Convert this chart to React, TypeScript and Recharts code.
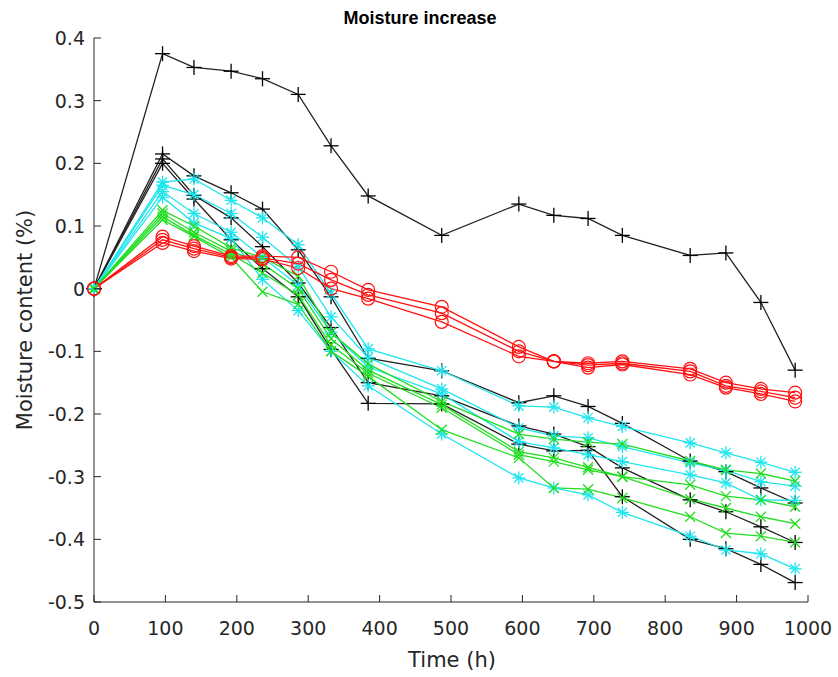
import { Line, LineChart, XAxis, YAxis } from 'recharts';

// Sampling times (h)
const TIME = [0, 96, 140, 192, 236, 286, 332, 384, 487, 595, 644, 692, 740, 835, 885, 934, 982];

// black '+' series
const K1 = [0, 0.375, 0.353, 0.347, 0.335, 0.31, 0.228, 0.148, 0.085, 0.135, 0.117, 0.112, 0.085, 0.053, 0.057, -0.022, -0.13];
const K2 = [0, 0.215, 0.18, 0.153, 0.127, 0.062, -0.013, -0.111, -0.131, -0.182, -0.171, -0.188, -0.215, -0.275, -0.292, -0.318, -0.342];
const K3 = [0, 0.207, 0.149, 0.113, 0.067, 0.009, -0.062, -0.15, -0.171, -0.219, -0.232, -0.252, -0.286, -0.337, -0.356, -0.38, -0.405];
const K4 = [0, 0.2, 0.143, 0.078, 0.032, -0.013, -0.097, -0.183, -0.184, -0.248, -0.259, -0.258, -0.332, -0.4, -0.415, -0.44, -0.469];

// cyan '*' series
const C1 = [0, 0.17, 0.175, 0.141, 0.113, 0.07, -0.008, -0.096, -0.131, -0.187, -0.189, -0.206, -0.22, -0.246, -0.262, -0.277, -0.293];
const C2 = [0, 0.165, 0.15, 0.12, 0.082, 0.035, -0.045, -0.11, -0.16, -0.222, -0.235, -0.238, -0.252, -0.278, -0.29, -0.308, -0.315];
const C3 = [0, 0.155, 0.12, 0.09, 0.05, 0.005, -0.07, -0.125, -0.168, -0.244, -0.254, -0.265, -0.276, -0.297, -0.31, -0.337, -0.338];
const C4 = [0, 0.146, 0.105, 0.08, 0.015, -0.035, -0.1, -0.155, -0.232, -0.302, -0.318, -0.329, -0.357, -0.395, -0.417, -0.423, -0.447];

// green 'x' series
const G1 = [0, 0.125, 0.1, 0.065, 0.05, 0.02, -0.07, -0.12, -0.18, -0.232, -0.24, -0.245, -0.248, -0.275, -0.289, -0.295, -0.307];
const G2 = [0, 0.12, 0.09, 0.06, 0.04, 0.0, -0.08, -0.13, -0.185, -0.26, -0.27, -0.285, -0.3, -0.313, -0.331, -0.337, -0.348];
const G3 = [0, 0.115, 0.085, 0.055, 0.025, -0.01, -0.09, -0.135, -0.19, -0.265, -0.276, -0.289, -0.3, -0.336, -0.35, -0.364, -0.375];
const G4 = [0, 0.11, 0.083, 0.05, -0.005, -0.025, -0.1, -0.14, -0.225, -0.27, -0.318, -0.32, -0.334, -0.364, -0.39, -0.395, -0.405];

// red 'o' series
const R1 = [0, 0.083, 0.068, 0.052, 0.052, 0.05, 0.027, -0.002, -0.029, -0.093, -0.116, -0.119, -0.116, -0.128, -0.15, -0.16, -0.166];
const R2 = [0, 0.078, 0.064, 0.05, 0.049, 0.04, 0.014, -0.01, -0.039, -0.1, -0.116, -0.122, -0.119, -0.132, -0.155, -0.164, -0.174];
const R3 = [0, 0.073, 0.06, 0.048, 0.047, 0.033, 0.0, -0.016, -0.053, -0.108, -0.116, -0.126, -0.121, -0.137, -0.158, -0.168, -0.18];

const X_TICKS = [0, 100, 200, 300, 400, 500, 600, 700, 800, 900, 1000];
const Y_TICKS = [-0.5, -0.4, -0.3, -0.2, -0.1, 0, 0.1, 0.2, 0.3, 0.4];

const SERIES: { key: string; values: number[]; color: string; line: string; marker: string }[] = [
  { key: 'k1', values: K1, color: '#000', line: '#222', marker: 'plus' },
  { key: 'k2', values: K2, color: '#000', line: '#222', marker: 'plus' },
  { key: 'k3', values: K3, color: '#000', line: '#222', marker: 'plus' },
  { key: 'k4', values: K4, color: '#000', line: '#222', marker: 'plus' },
  { key: 'c1', values: C1, color: '#1ee6ee', line: '#1ee6ee', marker: 'star' },
  { key: 'c2', values: C2, color: '#1ee6ee', line: '#1ee6ee', marker: 'star' },
  { key: 'c3', values: C3, color: '#1ee6ee', line: '#1ee6ee', marker: 'star' },
  { key: 'c4', values: C4, color: '#1ee6ee', line: '#1ee6ee', marker: 'star' },
  { key: 'g1', values: G1, color: '#22dd22', line: '#22dd22', marker: 'x' },
  { key: 'g2', values: G2, color: '#22dd22', line: '#22dd22', marker: 'x' },
  { key: 'g3', values: G3, color: '#22dd22', line: '#22dd22', marker: 'x' },
  { key: 'g4', values: G4, color: '#22dd22', line: '#22dd22', marker: 'x' },
  { key: 'r1', values: R1, color: '#ff1010', line: '#ff1010', marker: 'circle' },
  { key: 'r2', values: R2, color: '#ff1010', line: '#ff1010', marker: 'circle' },
  { key: 'r3', values: R3, color: '#ff1010', line: '#ff1010', marker: 'circle' },
];

const data = TIME.map((t, i) => {
  const row: Record<string, number> = { t };
  SERIES.forEach((s) => {
    row[s.key] = s.values[i];
  });
  return row;
});

const W = 838;
const H = 677;
const AXIS = '#262626';
const FONT = '"DejaVu Sans", Verdana, sans-serif';

function fmtY(v: number) {
  if (Math.abs(v) < 1e-9) return '0';
  return v.toFixed(1);
}

function XTick(props: any) {
  const { x, y, payload } = props;
  return (
    <g>
      <line x1={x} y1={y} x2={x} y2={y - 7} stroke={AXIS} strokeWidth={1} />
      <text x={x} y={y + 33} textAnchor="middle" fontSize={19} fill={AXIS} fontFamily={FONT}>
        {payload.value}
      </text>
    </g>
  );
}

function YTick(props: any) {
  const { x, y, payload } = props;
  return (
    <g>
      <line x1={x} y1={y} x2={x + 7} y2={y} stroke={AXIS} strokeWidth={1} />
      <text x={x - 9} y={y + 7} textAnchor="end" fontSize={19} fill={AXIS} fontFamily={FONT}>
        {fmtY(payload.value)}
      </text>
    </g>
  );
}

function makeDot(marker: string, color: string) {
  return (p: any) => {
    const { cx, cy, index, dataKey } = p;
    const k = `${dataKey}-${index}`;
    if (cx == null || cy == null) return <g key={k} />;
    if (marker === 'plus') {
      const a = 7.5;
      return (
        <g key={k} stroke={color} strokeWidth={1.3}>
          <line x1={cx - a} y1={cy} x2={cx + a} y2={cy} />
          <line x1={cx} y1={cy - a} x2={cx} y2={cy + a} />
        </g>
      );
    }
    if (marker === 'circle') {
      return <circle key={k} cx={cx} cy={cy} r={6.5} fill="none" stroke={color} strokeWidth={1.2} />;
    }
    if (marker === 'x') {
      const a = 5;
      return (
        <g key={k} stroke={color} strokeWidth={1.3}>
          <line x1={cx - a} y1={cy - a} x2={cx + a} y2={cy + a} />
          <line x1={cx - a} y1={cy + a} x2={cx + a} y2={cy - a} />
        </g>
      );
    }
    // asterisk
    const a = 6.5;
    const d = 4.6;
    return (
      <g key={k} stroke={color} strokeWidth={1.3}>
        <line x1={cx - a} y1={cy} x2={cx + a} y2={cy} />
        <line x1={cx} y1={cy - a} x2={cx} y2={cy + a} />
        <line x1={cx - d} y1={cy - d} x2={cx + d} y2={cy + d} />
        <line x1={cx - d} y1={cy + d} x2={cx + d} y2={cy - d} />
      </g>
    );
  };
}

export default function App() {
  return (
    <div style={{ position: 'absolute', left: 0, top: 0, width: W, height: H, background: '#fff' }}>
      <LineChart width={W} height={H} data={data} margin={{ top: 38, right: 30, bottom: 0, left: 0 }}>
        <XAxis
          dataKey="t"
          type="number"
          domain={[0, 1000]}
          ticks={X_TICKS}
          height={75}
          tickSize={0}
          tickMargin={0}
          tickLine={false}
          axisLine={{ stroke: AXIS, strokeWidth: 1 }}
          tick={<XTick />}
          interval={0}
        />
        <YAxis
          type="number"
          domain={[-0.5, 0.4]}
          ticks={Y_TICKS}
          width={94}
          tickSize={0}
          tickMargin={0}
          tickLine={false}
          axisLine={{ stroke: AXIS, strokeWidth: 1 }}
          tick={<YTick />}
          interval={0}
        />
        {SERIES.map((s) => (
          <Line
            key={s.key}
            dataKey={s.key}
            type="linear"
            stroke={s.line}
            strokeWidth={1.3}
            dot={makeDot(s.marker, s.color)}
            activeDot={false}
            isAnimationActive={false}
          />
        ))}
      </LineChart>
      <div
        style={{
          position: 'absolute',
          left: 220,
          width: 400,
          top: 6,
          textAlign: 'center',
          fontFamily: '"Liberation Sans", Arial, sans-serif',
          fontWeight: 'bold',
          fontSize: 18,
          lineHeight: '24px',
          color: '#000',
        }}
      >
        Moisture increase
      </div>
      <div
        style={{
          position: 'absolute',
          left: 25,
          top: 320,
          transform: 'translate(-50%, -50%) rotate(-90deg)',
          whiteSpace: 'nowrap',
          fontFamily: FONT,
          fontSize: 21,
          lineHeight: '24px',
          color: AXIS,
        }}
      >
        Moisture content (%)
      </div>
      <div
        style={{
          position: 'absolute',
          left: 452,
          top: 660,
          transform: 'translate(-50%, -50%)',
          whiteSpace: 'nowrap',
          fontFamily: FONT,
          fontSize: 21,
          lineHeight: '24px',
          color: AXIS,
        }}
      >
        Time (h)
      </div>
    </div>
  );
}
